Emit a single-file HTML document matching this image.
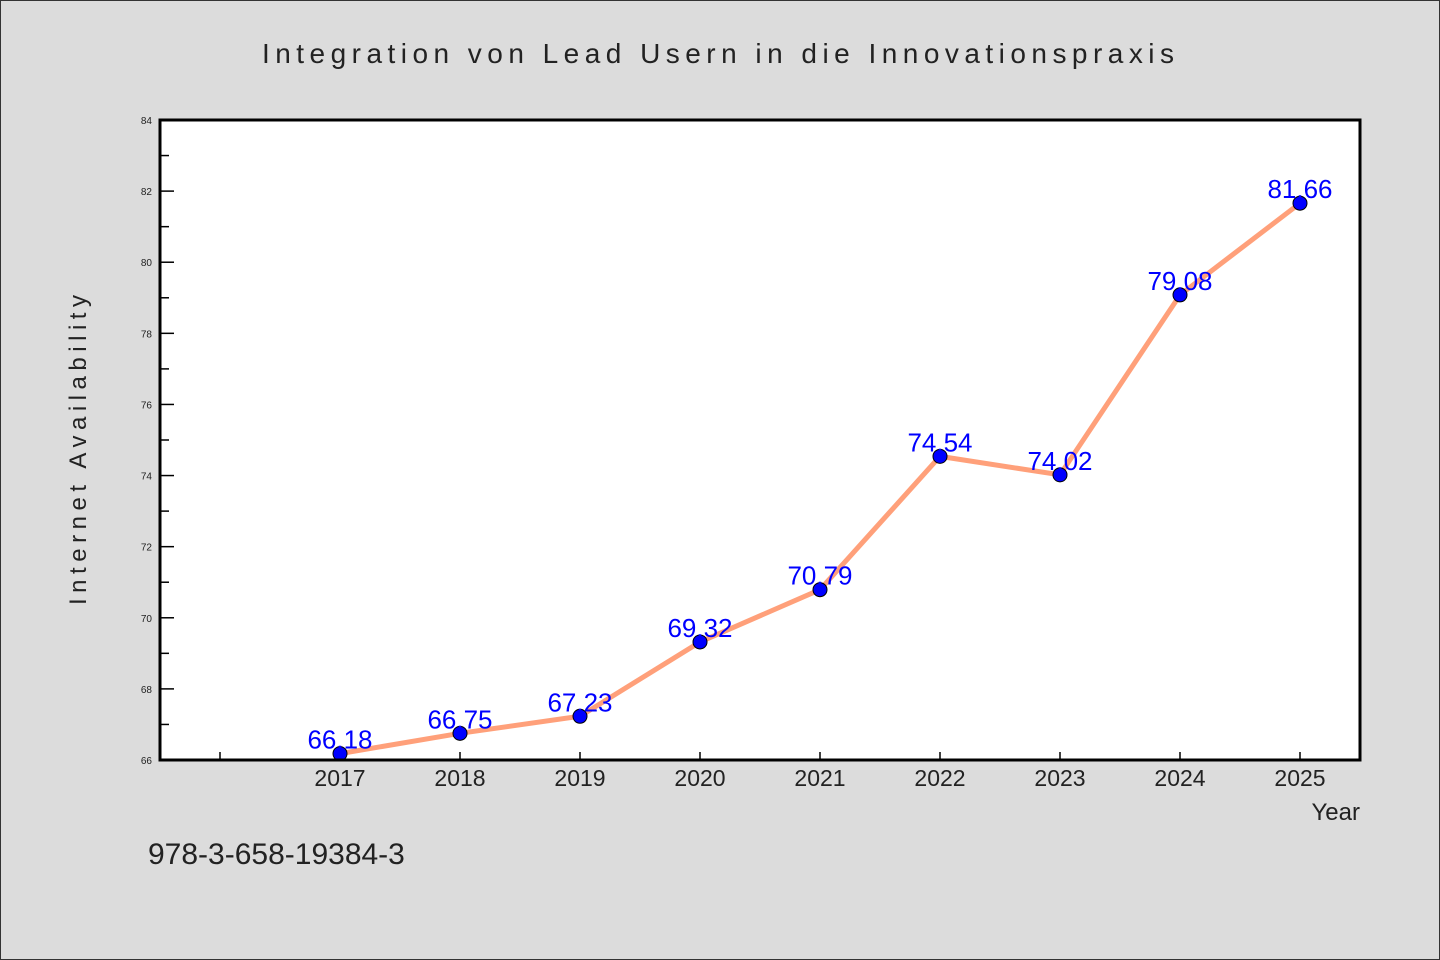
<!DOCTYPE html>
<html><head><meta charset="utf-8"><style>
html,body{margin:0;padding:0;background:#dcdcdc}
svg{display:block}
text{font-family:"WenQuanYi Zen Hei","Liberation Sans",sans-serif}
</style></head><body>
<svg id="chart" width="1440" height="960">
<rect x="0.5" y="0.5" width="1439" height="959" fill="#dcdcdc" stroke="#333"/>
<text x="718" y="63" text-anchor="middle" font-size="28" fill="#222" textLength="912" lengthAdjust="spacing">Integration von Lead Usern in die Innovationspraxis</text>
<rect x="160" y="120" width="1200" height="640" fill="#fff"/>
<g id="axes"></g>
<g id="series"></g>
<rect x="160" y="120" width="1200" height="640" fill="none" stroke="#000" stroke-width="3"/>
<text x="86" y="450" transform="rotate(-90 86 450)" text-anchor="middle" font-size="24" fill="#222" textLength="310" lengthAdjust="spacing">Internet Availability</text>
<text x="1360" y="820" text-anchor="end" font-size="24" fill="#222">Year</text>
<text x="148" y="864" font-size="30" fill="#222">978-3-658-19384-3</text>
</svg>
<script>
const years = [2017, 2018, 2019, 2020, 2021, 2022, 2023, 2024, 2025];
const values = [66.18, 66.75, 67.23, 69.32, 70.79, 74.54, 74.02, 79.08, 81.66];
const yTicks = [66, 68, 70, 72, 74, 76, 78, 80, 82, 84];
const xTicks = [2016, 2017, 2018, 2019, 2020, 2021, 2022, 2023, 2024, 2025];
const NS = "http://www.w3.org/2000/svg";
const L = 160, R = 1360, T = 120, B = 760;
const x = v => L + (v - 2015.5) / 10 * (R - L);
const y = v => B - (v - 66) / 18 * (B - T);
const axes = document.getElementById('axes'), series = document.getElementById('series');
function mk(tag, attrs, parent) { const e = document.createElementNS(NS, tag); for (const k in attrs) e.setAttribute(k, attrs[k]); parent.appendChild(e); return e; }
yTicks.forEach((t, i) => {
  const ln = mk('line', {x1: L, x2: L + 14, y1: y(t), y2: y(t), stroke: '#000', 'stroke-width': 1.5}, axes);
  
  
  if (i < yTicks.length - 1) {
    const m = mk('line', {x1: L, x2: L + 9, y1: y(t + 1), y2: y(t + 1), stroke: '#000', 'stroke-width': 1.5}, axes);
    
    
  }
  const tx = mk('text', {x: L - 8, y: y(t) + 4, 'text-anchor': 'end', 'font-size': 10, fill: '#222'}, axes);
  tx.textContent = t;
  
  
});
xTicks.forEach(t => {
  const ln = mk('line', {x1: x(t), x2: x(t), y1: B, y2: B - 8, stroke: '#000', 'stroke-width': 1.5}, axes);
  
  
  if (years.includes(t)) {
    const tx = mk('text', {x: x(t), y: B + 26, 'text-anchor': 'middle', 'font-size': 23, fill: '#222'}, axes);
    tx.textContent = t;
    
    
  }
});
const pl = mk('polyline', {points: years.map((yr, i) => x(yr) + ',' + y(values[i])).join(' '), fill: 'none', stroke: '#ffa07a', 'stroke-width': 5}, series);


years.forEach((yr, i) => {
  const c = mk('circle', {cx: x(yr), cy: y(values[i]), r: 7, fill: '#0000ff', stroke: '#000', 'stroke-width': 1}, series);
  
  
});
years.forEach((yr, i) => {
  const tx = mk('text', {x: x(yr), y: y(values[i]) - 5, 'text-anchor': 'middle', 'font-size': 26, fill: '#0000ff'}, series);
  tx.textContent = values[i].toFixed(2);
  
  
});
</script>
</body></html>
